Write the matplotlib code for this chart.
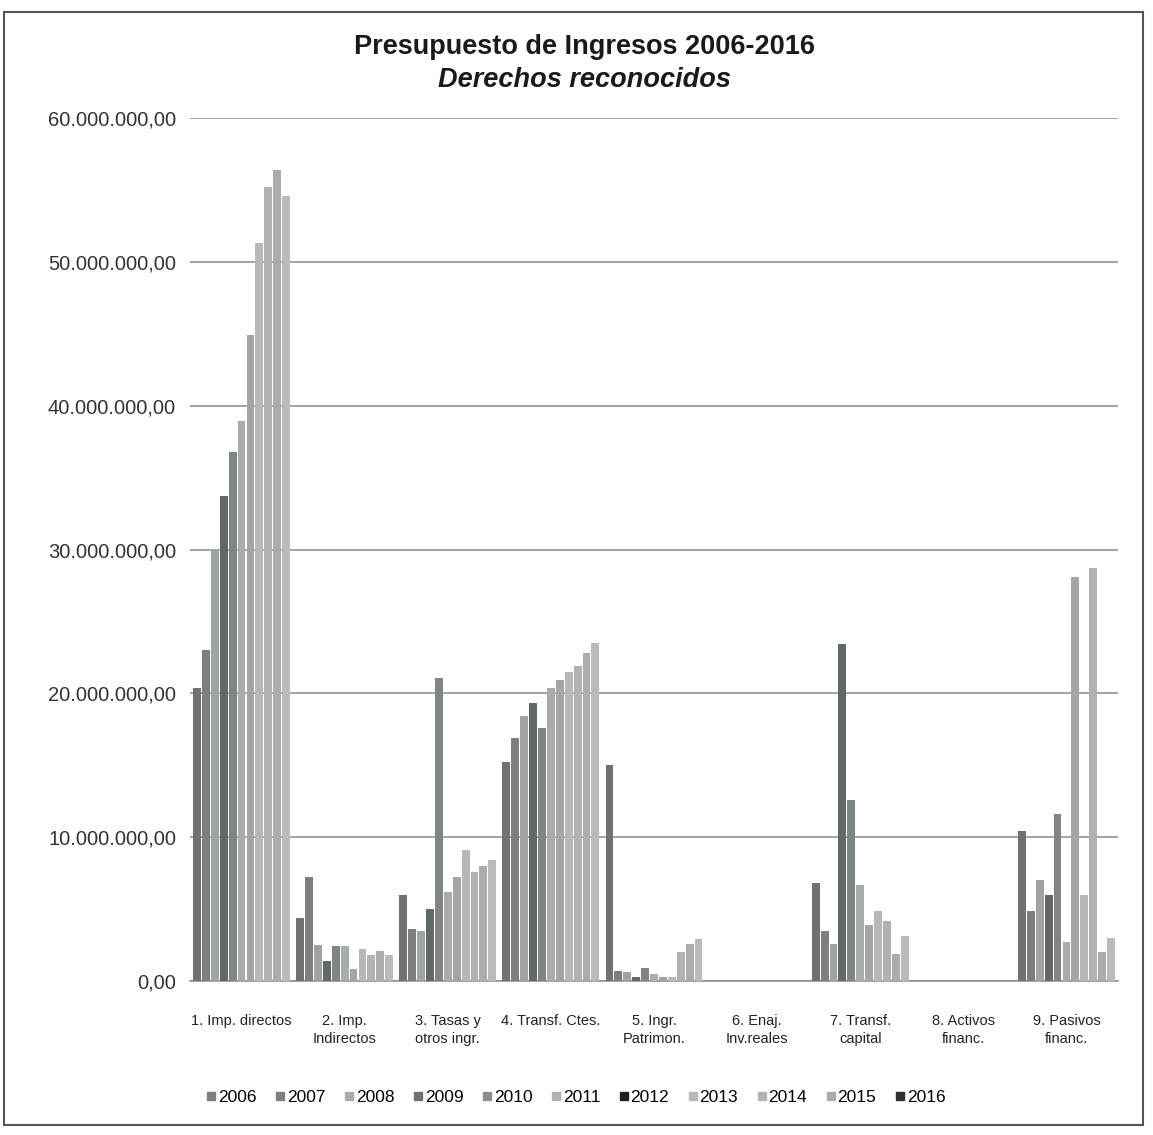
import matplotlib
matplotlib.use("Agg")
import matplotlib.pyplot as plt
import numpy as np
from matplotlib.patches import Rectangle
from matplotlib.ticker import FuncFormatter
from matplotlib.lines import Line2D

categories = ["1. Imp. directos", "2. Imp.\nIndirectos", "3. Tasas y\notros ingr.",
              "4. Transf. Ctes.", "5. Ingr.\nPatrimon.", "6. Enaj.\nInv.reales",
              "7. Transf.\ncapital", "8. Activos\nfinanc.", "9. Pasivos\nfinanc."]
years = ["2006", "2007", "2008", "2009", "2010", "2011", "2012", "2013", "2014", "2015", "2016"]

# values in millions of euros, one list per year (order follows categories)
v2006 = [20.4, 4.4, 6.0, 15.2, 15.0, 0.0, 6.8, 0.0, 10.4]
v2007 = [23.0, 7.2, 3.6, 16.9, 0.7, 0.0, 3.5, 0.0, 4.9]
v2008 = [29.9, 2.5, 3.5, 18.4, 0.6, 0.0, 2.6, 0.0, 7.0]
v2009 = [33.7, 1.4, 5.0, 19.3, 0.3, 0.0, 23.4, 0.0, 6.0]
v2010 = [36.8, 2.4, 21.1, 17.6, 0.9, 0.0, 12.6, 0.0, 11.6]
v2011 = [38.9, 2.4, 6.2, 20.4, 0.5, 0.0, 6.7, 0.0, 2.7]
v2012 = [44.9, 0.8, 7.2, 20.9, 0.3, 0.0, 3.9, 0.0, 28.1]
v2013 = [51.3, 2.2, 9.1, 21.5, 0.3, 0.0, 4.9, 0.0, 6.0]
v2014 = [55.2, 1.8, 7.6, 21.9, 2.0, 0.0, 4.2, 0.0, 28.7]
v2015 = [56.4, 2.1, 8.0, 22.8, 2.6, 0.0, 1.9, 0.0, 2.0]
v2016 = [54.6, 1.8, 8.4, 23.5, 2.9, 0.0, 3.1, 0.0, 3.0]
series = [v2006, v2007, v2008, v2009, v2010, v2011, v2012, v2013, v2014, v2015, v2016]

yticks = [0, 10, 20, 30, 40, 50, 60]

colors = ["#6e7371", "#7b7f7d", "#9fa3a1", "#626866", "#7f8583", "#a8acaa",
          "#a2a6a4", "#b6b9b8", "#b0b3b2", "#aaadac", "#b9bcbb"]
legend_colors = ["#7b7f7d", "#7b7f7d", "#a8acaa", "#6e7371", "#8a8e8c", "#b0b3b2",
                 "#202020", "#b6b9b8", "#b0b3b2", "#a8acaa", "#303030"]

W, H = 1153, 1135
fig = plt.figure(figsize=(W / 100, H / 100), dpi=100)
fig.patch.set_facecolor("white")

ax = fig.add_axes([190 / W, 1 - 981 / H, 928 / W, (981 - 118) / H])

n = len(years)
group_w = 0.95
bw = group_w / n
x = np.arange(len(categories))
for i, (yr, vals) in enumerate(zip(years, series)):
    off = -group_w / 2 + bw * (i + 0.5)
    ax.bar(x + off, vals, width=bw * 0.88, color=colors[i], edgecolor="none",
           zorder=3, label=yr)

ax.set_xlim(-0.5, len(categories) - 0.5)
ax.set_ylim(0, 60)
ax.set_yticks(yticks)
ax.yaxis.set_major_formatter(FuncFormatter(
    lambda v, p: f"{v * 1e6:,.2f}".replace(",", "X").replace(".", ",").replace("X", ".")))
ax.grid(axis="y", color="#8a8a8a", linewidth=1.1, zorder=0)
for s in ["left", "right", "top"]:
    ax.spines[s].set_visible(False)
ax.spines["bottom"].set_color("#8a8a8a")
ax.spines["bottom"].set_linewidth(1.1)
ax.tick_params(axis="y", length=0, pad=10, labelsize=14.5, labelcolor="#333333")
ax.tick_params(axis="x", length=0, pad=24)
ax.set_xticks(x)
ax.set_xticklabels(categories, fontsize=10.5, color="#222222",
                   family=["Liberation Sans", "DejaVu Sans"], linespacing=1.35)
for lab in ax.get_yticklabels():
    lab.set_family(["Liberation Sans", "DejaVu Sans"])

fig.text(585 / W, 1 - 47 / H, "Presupuesto de Ingresos 2006-2016", ha="center", va="center",
         fontsize=19.5, fontweight="bold", color="#1a1a1a", family=["Liberation Sans", "DejaVu Sans"])
fig.text(585 / W, 1 - 80 / H, "Derechos reconocidos", ha="center", va="center",
         fontsize=19.5, fontweight="bold", style="italic", color="#1a1a1a",
         family=["Liberation Sans", "DejaVu Sans"])

handles = [Line2D([], [], marker="s", linestyle="none", markersize=6,
                  markerfacecolor=legend_colors[i], markeredgecolor=legend_colors[i])
           for i in range(n)]
fig.legend(handles, years, loc="center", bbox_to_anchor=(573 / W, 1 - 1097 / H), ncol=n,
           frameon=False, handletextpad=-0.2, columnspacing=0.75, handlelength=1.2,
           prop={"family": ["Liberation Sans", "DejaVu Sans"], "size": 12.5})

fig.patches.append(Rectangle((4 / W, 1 - 1125 / H), (1143 - 4) / W, (1125 - 12) / H,
                             transform=fig.transFigure, fill=False, edgecolor="#555555",
                             linewidth=1.5))

fig.savefig("out.png", dpi=100)
